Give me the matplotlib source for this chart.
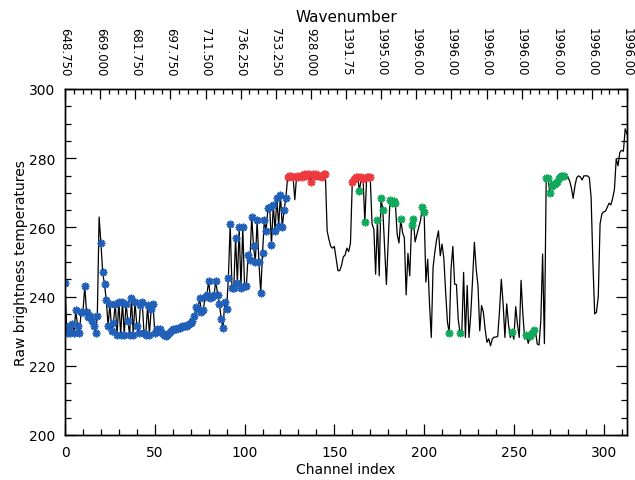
import matplotlib
matplotlib.use("Agg")
import matplotlib.pyplot as plt
import numpy as np
from matplotlib.ticker import MultipleLocator, FixedLocator

# ---- data ----
temps = [
    244, 229.5, 231.5, 229.5, 232, 229.5, 236, 231.5, 229.5, 235.5,
    235.5, 243, 235.5, 234, 234.5, 233, 231.5, 229.5, 234.5, 263,
    255.5, 247, 243.5, 239, 231.5, 238, 230, 232.5, 238, 229,
    238.5, 229, 238.5, 229, 238, 233, 229, 239.5, 229, 238.5,
    231.5, 229.5, 237.5, 238.5, 229.5, 229, 237.5, 229, 236.5, 238,
    229.5, 230.5, 230, 230.5, 229.5, 229, 228.5, 229, 229.5, 230,
    230.5, 230.5, 230.5, 231, 231, 231.5, 231.5, 231.5, 231.5, 232,
    232.5, 233, 234.5, 237, 236.5, 239.5, 235.5, 236, 240, 240.5,
    244.5, 239.5, 240, 240.5, 244.5, 240.5, 238, 233.5, 231, 238.5,
    236.5, 245.5, 261, 242.5, 242.5, 257, 244, 260, 242.5, 260,
    243, 243, 252, 250.5, 263, 254.5, 250, 262, 250, 241,
    252.5, 262, 259, 265.5, 266, 255, 266.5, 259, 268.5, 260.5,
    269.5, 260, 265, 268.5, 274.5, 275, 275, 274.5, 268, 275,
    274.5, 275, 274.5, 275.5, 275, 275.5, 275.5, 273, 275.5, 275,
    275.5, 275, 275, 274.5, 275.5, 275.5, 259, 256.5, 254.5, 254,
    254.5, 251, 247.5, 247.5, 249, 251.5, 252, 254, 253, 255.5,
    273, 274, 274.5, 274.5, 270.5, 274.5, 274, 261.5, 274.5, 274.5,
    274.5, 261, 259.5, 246.5, 262, 246, 268.5, 265, 254, 243.5,
    256, 268, 267, 267.5, 267, 258, 255.5, 262.3, 258.5, 257,
    240.5, 252.5, 246, 260.7, 262.3, 255.8, 258, 260, 262, 265.8,
    264.5, 244.2, 250.8, 238, 228.2, 248.5, 253, 256.6, 259, 251.8,
    255.2, 251, 241.2, 232.6, 229.5, 248, 254.5, 243.6, 243.5, 233.5,
    229.4, 229.5, 247, 228.2, 243.2, 228.2, 235, 245, 255.7, 248,
    243.2, 230.1, 237.4, 235.5, 230.5, 226.8, 227.8, 225.8, 227.8, 228.3,
    228.3, 228.5, 236, 245, 238, 228.2, 237.9, 232, 228.2, 229.7,
    227.7, 237.1, 232, 228.2, 244.7, 235, 227.7, 228.9, 226.5, 228.5,
    229.6, 230.3, 230.1, 226.3, 226, 233, 252.3, 226.4, 274.4, 274.4,
    270, 272, 272.5, 272.5, 273, 274.4, 274.9, 274.9, 274.9, 274.6,
    274.6, 273.5, 271.5, 268.4, 272, 274.4, 274.9, 274.6, 273.7, 274.9,
    274.9, 274.9, 274.4, 268.8, 250, 235, 235.5, 240, 261, 263.9,
    264.5, 264.7, 265.8, 267, 266.5, 268.4, 271, 279.8, 277.8, 281.7,
    282.3, 282, 288.5, 287,
]

blue_channels = list(range(0, 19)) + list(range(20, 124))
red_channels = [124, 125, 126, 127, 129, 130, 131, 132, 133, 134, 135, 136,
                137, 138, 139, 140, 141, 142, 143, 144, 145,
                160, 161, 162, 163, 165, 166, 168, 169, 170]
green_channels = [164, 167, 174, 176, 177, 181, 182, 183, 184, 187, 193, 194,
                  199, 200, 214, 220, 249, 257, 259, 260, 261,
                  268, 269, 270, 271, 272, 273, 274, 275, 276, 277, 278]

wavenumber_labels = ["648.750", "669.000", "681.750", "697.750", "711.500",
                     "736.250", "753.250", "928.000", "1391.75", "1995.00",
                     "1996.00", "1996.00", "1996.00", "1996.00", "1996.00",
                     "1996.00", "1996.00"]

# ---- plot ----
plt.rcParams['font.family'] = ['DejaVu Sans']
fig = plt.figure(figsize=(6.35, 4.81), dpi=100)
ax = fig.add_axes([65/635, 1-436/481, (627-65)/635, (436-90)/481])

ch = np.arange(len(temps))
t = np.array(temps)
ax.plot(ch, t, color='black', lw=0.9, zorder=2)

mk = dict(marker=(8, 2, 0), ls='none', ms=5.5, mew=1.2, zorder=3)
ax.plot(ch[blue_channels], t[blue_channels], color='#2060b8', **mk)
ax.plot(ch[red_channels], t[red_channels], color='#ee3a3f', **mk)
ax.plot(ch[green_channels], t[green_channels], color='#10a85a', **mk)

xmax = len(temps) - 1
ax.set_xlim(0, xmax)
ax.set_ylim(200, 300)

ax.xaxis.set_major_locator(MultipleLocator(50))
ax.xaxis.set_minor_locator(MultipleLocator(10))
ax.yaxis.set_major_locator(MultipleLocator(20))
ax.yaxis.set_minor_locator(MultipleLocator(5))
ax.tick_params(which='both', direction='in', top=False, right=True, labelsize=10,
               width=0.9, colors='black')
ax.tick_params(which='major', length=8, pad=7)
ax.tick_params(which='minor', length=4)
for s in ax.spines.values():
    s.set_linewidth(1.0)

ax.set_xlabel("Channel index", fontsize=10, labelpad=2)
ax.set_ylabel("Raw brightness temperatures", fontsize=10, labelpad=1)

# top axis: wavenumbers
top = ax.twiny()
top.set_xlim(0, xmax)
tpos = np.linspace(0, xmax, len(wavenumber_labels))
top.xaxis.set_major_locator(FixedLocator(tpos))
top.set_xticklabels(wavenumber_labels, rotation=270, fontsize=8.5)
step = tpos[1] - tpos[0]
minors = [p + step * k / 4 for p in tpos[:-1] for k in (1, 2, 3)]
top.xaxis.set_minor_locator(FixedLocator(minors))
top.tick_params(which='both', direction='in', width=0.9)
top.tick_params(which='major', length=7, pad=10)
top.tick_params(which='minor', length=3.5)
top.set_xlabel("Wavenumber", fontsize=11, labelpad=4)
for s in top.spines.values():
    s.set_linewidth(1.0)

fig.savefig("out.png", dpi=100)
